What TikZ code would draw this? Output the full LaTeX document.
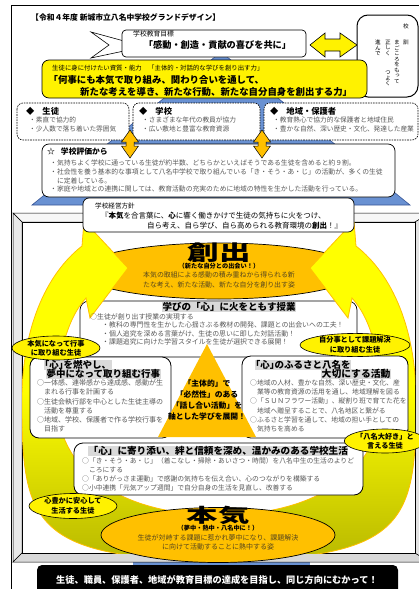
\documentclass[tikz,border=0pt]{standalone}
\usepackage{fontspec}
\setmainfont{Noto Sans CJK JP}
\newfontfamily\vfont{Noto Sans CJK JP}[RawFeature=+vert]
\usepackage{graphicx}
\usetikzlibrary{shapes.geometric}
\definecolor{gold}{RGB}{255,192,0}
\definecolor{hl}{RGB}{217,217,217}
\definecolor{tg}{RGB}{88,88,88}
\definecolor{pyblue}{RGB}{105,145,210}
\definecolor{pyedge}{RGB}{55,85,150}
\definecolor{olivey}{RGB}{185,185,0}
\definecolor{dtxt}{RGB}{85,70,30}
\newcommand\fs[2]{\fontsize{#1}{#2}\selectfont}
\setlength{\fboxsep}{0.5pt}
\newcommand\hlt[1]{\colorbox{hl}{#1}}
\newcommand\lbk{\makebox[0.5em][r]{「}}
\newcommand\rbk{\makebox[0.5em][l]{」}}
\tikzset{
  boxs/.style={draw=black, line width=0.7pt, fill=white, rounded corners=8pt},
  dbox/.style={draw=black, line width=0.6pt, dash pattern=on 1.6pt off 1pt, fill=white, rounded corners=6pt},
  tb/.style={inner sep=0pt, anchor=north west, align=left, text=tg},
  tl/.style={inner sep=0pt, anchor=west},
  tc/.style={inner sep=0pt, anchor=center, align=center},
  lbl/.style={ellipse, draw=black, line width=0.6pt, fill=yellow, inner sep=0pt, align=center, font=\fs{7.2}{9.5}\bfseries},
  vt/.style={inner sep=0pt, anchor=north, align=center, font=\vfont\fs{5.6}{5.5}},
  ring/.style={top color=yellow, bottom color=olivey, middle color=yellow, draw=gold, line width=0.8pt},
  goldarrow/.style={fill=gold, draw=black, line width=0.5pt}
}
\begin{document}
\begin{tikzpicture}[x=1pt,y=-1pt]
\useasboundingbox (0,0) rectangle (419,589);
% outer frame
\draw[line width=0.8pt] (11.5,600) -- (11.5,5) -- (430,5);
\node[tl, font=\fs{7.8}{8}\bfseries] (title) at (31,17) {【令和４年度\ 新城市立八名中学校グランドデザイン】};

% blue pyramid
\path[fill=pyblue, draw=pyedge, line width=0.6pt] (221,52) -- (410,205) -- (32,205) -- cycle;

% ribbon + goal box
\draw[fill=white, line width=0.6pt] (91,32) -- (124,41) -- (124,51) -- (91,58) -- (109,45) -- cycle;
\path[boxs, rounded corners=4pt] (122,30) rectangle (306,57);
\node[tl, font=\fs{6.8}{7}] (goalcap) at (133,34) {学校教育目標};
\node[tc, font=\fs{9.2}{10}\bfseries] (goal) at (217.5,45) {「感動・創造・貢献の喜びを共に」};

% yellow double arrow
\draw[fill=yellow, line width=0.6pt] (310,45) -- (325,33) -- (325,39) -- (340,39) -- (340,33) -- (357,45) -- (340,57) -- (340,51) -- (325,51) -- (325,57) -- cycle;

% motto box
\path[draw=black, fill=white, line width=1pt, rounded corners=11pt] (357,15) rectangle (418,97);
\node[vt, anchor=center] (m0) at (406,26) {校};
\node[vt, anchor=center] (m1) at (406,42) {訓};
\node[vt] (m2) at (397,40) {ま\\ご\\こ\\ろ\\を\\も\\っ\\て};
\node[vt] (m3) at (388,40) {正\\し\\く};
\node[vt] (m4) at (388,71) {つ\\よ\\く};
\node[vt] (m5) at (378,40) {進\\ん\\で};

% yellow ability box
\path[fill=yellow, draw=black, line width=0.7pt, rounded corners=7pt] (42,60) rectangle (367,98);
\node[tl, font=\fs{6.4}{7}] (abcap) at (52,68) {生徒に身に付けたい資質・能力　「主体的・対話的な学びを創り出す力」};
\node[tl, font=\fs{9.4}{10}\bfseries] (ab1) at (48.5,80) {「何事にも本気で取り組み、関わり合いを通して、};
\node[tl, font=\fs{9.4}{10}\bfseries] (ab2) at (80,92) {新たな考えを導き、新たな行動、新たな自分自身を創出する力」};

% three boxes
\path[dbox] (17,103) rectangle (129,140);
\path[dbox] (133,103) rectangle (260,140);
\path[dbox] (264,103) rectangle (418,140);
\node[tl, font=\fs{8.3}{9}\bfseries] (h1) at (26,111) {◆\hspace{8pt}生徒};
\node[tl, font=\fs{8.3}{9}\bfseries] (h2) at (139,111) {◆\hspace{8pt}学校};
\node[tl, font=\fs{8.3}{9}\bfseries] (h3) at (270,111) {◆\hspace{8pt}地域・保護者};
\node[tb, font=\fs{6.7}{9}] (b1) at (29,116.9) {・素直で協力的\\・少人数で落ち着いた雰囲気};
\node[tb, font=\fs{6.7}{9}] (b2) at (142,116.9) {・さまざまな年代の教員が協力\\・広い敷地と豊富な教育資源};
\node[tb, font=\fs{6.7}{9}] (b3) at (273,116.9) {・教育熱心で協力的な保護者と地域住民\\・豊かな自然、深い歴史・文化、発達した産業};

% evaluation box
\path[boxs, rounded corners=7pt] (42,144) rectangle (395,197);
\node[tl, font=\fs{7.8}{8}\bfseries] (evh) at (47,152) {☆\hspace{6pt}学校評価から};
\node[tb, font=\fs{6.8}{8.7}] (evb) at (50,159.8) {・気持ちよく学校に通っている生徒が約半数、どちらかといえばそうである生徒を含めると約９割。\\・社会性を養う基本的な事項として八名中学校で取り組んでいる「き・そう・あ・じ」の活動が、多くの生徒\\　に定着している。\\・家庭や地域との連携に関しては、教育活動の充実のために地域の特性を生かした活動を行っている。};

% gold double arrows
\foreach \c in {130,262} {
  \path[goldarrow] (\c,130) -- (\c+8.5,142) -- (\c+4,142) -- (\c+4,146) -- (\c+8.5,146) -- (\c,158) -- (\c-8.5,146) -- (\c-4,146) -- (\c-4,142) -- (\c-8.5,142) -- cycle;
}

% blue strip at bottom
\path[fill=pyblue] (133,555) rectangle (310,567);

% bevel frame
\path[fill=gray!6, draw=black, line width=0.5pt] (13,213) -- (430,213) -- (415,222) -- (22,222) -- cycle;
\path[fill=gray!18, draw=black, line width=0.5pt] (13,213) -- (22,222) -- (22,553) -- (13,562) -- cycle;
\path[fill=gray!30, draw=black, line width=0.5pt] (13,562) -- (22,553) -- (415,553) -- (430,562) -- cycle;
\path[fill=gray!22, draw=black, line width=0.5pt] (430,213) -- (415,222) -- (415,553) -- (430,562) -- cycle;
\path[fill=white, draw=black, line width=0.5pt] (22,222) rectangle (415,553);

\begin{scope}
\clip (22,222) rectangle (415,553);
\node[ellipse, draw=black, fill=gold, line width=0.7pt, minimum width=280pt, minimum height=56pt, inner sep=0pt] (soushutsu) at (219,271) {};
\path[boxs, rounded corners=9pt] (80,301) rectangle (357,357);
\path[ring] (219,560) .. controls (30,560) and (22,520) .. (22,400)
  .. controls (22,330) and (45,275) .. (82,246) -- (84,221) -- (128,268) -- (90,318) -- (86,298)
  .. controls (66,320) and (57,360) .. (57,400)
  .. controls (57,470) and (120,515) .. (219,515) -- cycle;
\path[ring] (219,560) .. controls (408,560) and (416,520) .. (416,400)
  .. controls (416,330) and (393,275) .. (356,246) -- (354,221) -- (310,268) -- (348,318) -- (352,298)
  .. controls (372,320) and (381,360) .. (381,400)
  .. controls (381,470) and (318,515) .. (219,515) -- cycle;
\end{scope}

% soushutsu texts
\node[tc] (soutitle) at (219,253) {\scalebox{1.5}[1]{\fs{21}{21}\bfseries 創出}};
\node[tc, font=\fs{6.2}{7}\bfseries] (sousub) at (219,266) {（新たな自分との出会い！）};
\node[tc, anchor=north, text=dtxt, font=\fs{6.9}{10}] (soudesc) at (219,271.7) {本気の取組による感動の積み重ねから得られる新\\たな考え、新たな活動、新たな自分を創り出す姿};

% lesson box texts
\node[tl, font=\fs{9.5}{10}\bfseries] (lesh) at (162,307) {\hlt{学びの「心」に火をともす授業}};
\node[tl, text=tg, font=\fs{6.9}{8}] (les0) at (90,316.7) {○生徒が創り出す授業の実現する};
\node[tb, font=\fs{6.9}{8.35}] (lesb) at (102,321.8) {・教科の専門性を生かした心揺さぶる教材の開発、課題との出会いへの工夫！\\・個人追究を深める言葉がけ、生徒の思いに即した対話活動！\\・課題追究に向けた学習スタイルを生徒が選択できる展開！};

% event box
\path[boxs, rounded corners=9pt, line width=0.8pt] (30,357) rectangle (171,438);
\node[tl, font=\fs{9.5}{10}\bfseries] (evt1) at (44,365) {\hlt{\lbk 心\rbk を燃やし、}};
\node[tl, font=\fs{9.5}{10}\bfseries] (evt2) at (46,374) {\hlt{夢中になって取り組む行事}};
\node[tb, font=\fs{7}{9.1}] (evtb) at (37,379.7) {○一体感、連帯感から達成感、感動が生\\　まれる行事を計画する\\○生徒会執行部を中心とした生徒主導の\\　活動を尊重する\\○地域、学校、保護者で作る学校行事を\\　目指す};

% local activity box
\path[boxs, rounded corners=9pt, line width=0.8pt] (242,356) rectangle (408,438);
\node[tl, font=\fs{9.5}{10}\bfseries] (loc1) at (255,365) {\hlt{\lbk 心\rbk のふるさと八名を}};
\node[tl, font=\fs{9.8}{10}\bfseries] (loc2) at (321,374) {\hlt{大切にする活動}};
\node[tb, font=\fs{6.8}{9.1}] (locb) at (250,379.8) {○地域の人材、豊かな自然、深い歴史・文化、産\\　業等の教育資源の活用を通し、地域理解を図る\\○「ＳＵＮフラワー活動」、縦割り班で育てた花を\\　地域へ贈呈することで、八名地区と繋がる\\○ふるさと学習を通して、地域の担い手としての\\　気持ちを高める};

% school life box
\path[boxs, rounded corners=9pt, line width=0.8pt] (74,443) rectangle (363,495);
\node[tl, font=\fs{9.6}{10}\bfseries] (lifeh) at (88,451) {\hlt{「心」に寄り添い、絆と信頼を深め、温かみのある学校生活}};
\node[tb, font=\fs{6.8}{8.9}] (lifeb) at (82,457.5) {○「き・そう・あ・じ」（着こなし・掃除・あいさつ・時間）を八名中生の生活のよりど\\　ころにする\\○「ありがっさま運動」で感謝の気持ちを伝え合い、心のつながりを構築する\\○小中連携「元気アップ週間」で自分自身の生活を見直し、改善する};

% central triangle
\path[fill=gold] (207,344) -- (256,437) -- (158,437) -- cycle;
\node[tc, font=\fs{7.8}{11.3}\bfseries] (tri) at (207,400) {「主体的」で\\「必然性」のある\\「話し合い活動」を\\軸とした学びを展開！};

% ellipse labels
\node[lbl, minimum width=88pt, minimum height=24pt] (l1) at (56,348) {本気になって行事\\に取り組む生徒};
\node[lbl, minimum width=110pt, minimum height=22pt] (r1) at (355,345) {自分事として課題解決\\に取り組む生徒};
\node[lbl, minimum width=76pt, minimum height=24pt] (r2) at (385,441) {「八名大好き」と\\言える生徒};
\node[lbl, minimum width=88pt, minimum height=25pt] (l2) at (73,506) {心豊かに安心して\\生活する生徒};

% honki ellipse
\node[ellipse, draw=black, fill=gold, line width=0.7pt, minimum width=234pt, minimum height=55pt, inner sep=0pt] (honkiE) at (218,535) {};
\node[tc] (honkit) at (218,515) {\scalebox{1.65}[1]{\fs{19}{19}\bfseries 本気}};
\node[tc, font=\fs{6.2}{7}\bfseries] (honkisub) at (218,528) {（夢中・熱中・八名中に！）};
\node[tc, anchor=north, text=dtxt, font=\fs{7}{9}] (honkidesc) at (218,534.7) {生徒が対峙する課題に惹かれ夢中になり、課題解決\\に向けて活動することに熱中する姿};

% policy box
\path[boxs, rounded corners=6pt] (83,198) rectangle (354,232);
\node[tl, font=\fs{6.6}{7}] (polcap) at (95,206) {学校経営方針};
\node[tl, font=\fs{7.5}{8}] (pol1) at (101,216) {『\textbf{本気}を合言葉に、\textbf{心}に響く働きかけで生徒の気持ちに火をつけ、};
\node[tl, font=\fs{7.5}{8}] (pol2) at (147,226) {自ら考え、自ら学び、自ら高められる教育環境の\textbf{創出}！』};

% bottom banner
\path[fill=black, rounded corners=5pt] (37,565) rectangle (398,600);
\node[tc, text=white, font=\fs{9.2}{10}\bfseries] (banner) at (217,580) {生徒、職員、保護者、地域が教育目標の達成を目指し、同じ方向にむかって！};
\end{tikzpicture}
\end{document}
